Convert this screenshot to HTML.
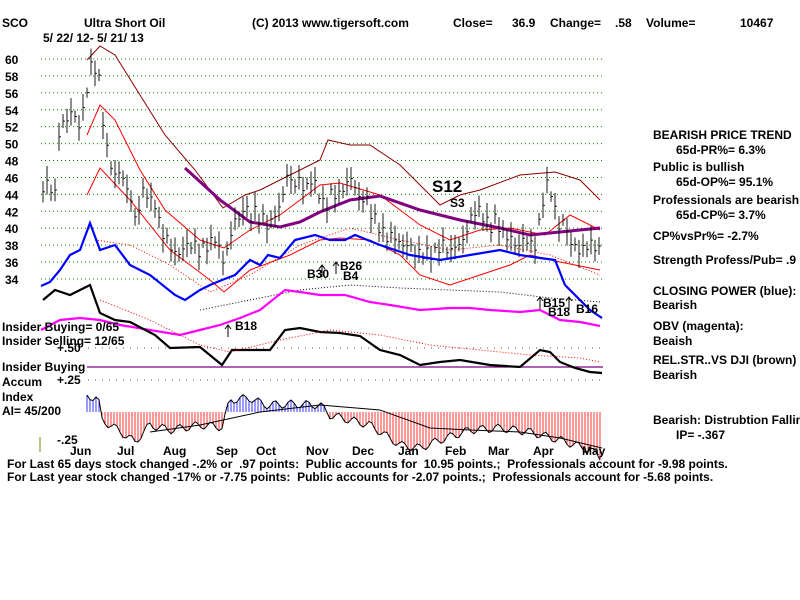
<!DOCTYPE html>
<html><head><meta charset="utf-8"><style>
body{margin:0;background:#fff;}
svg{display:block;font-family:"Liberation Sans",sans-serif;font-weight:bold;font-size:12px;}
</style></head><body>
<svg id="s" width="800" height="600" xmlns="http://www.w3.org/2000/svg">
<rect width="800" height="600" fill="#fff"/>
<g id="grid"></g>
<g id="plot"></g>
<g fill="#000">
<text x="2" y="27">SCO</text>
<text x="84" y="27">Ultra Short Oil</text>
<text x="252" y="27">(C) 2013 www.tigersoft.com</text>
<text x="453" y="27">Close=</text><text x="512" y="27">36.9</text>
<text x="550" y="27">Change=</text><text x="615" y="27">.58</text>
<text x="646" y="27">Volume=</text><text x="740" y="27">10467</text>
<text x="43" y="42">5/ 22/ 12- 5/ 21/ 13</text>
<text x="653" y="139">BEARISH PRICE TREND</text>
<text x="676" y="154">65d-PR%= 6.3%</text>
<text x="653" y="171">Public is bullish</text>
<text x="676" y="186">65d-OP%= 95.1%</text>
<text x="653" y="204">Professionals are bearish</text>
<text x="676" y="219">65d-CP%= 3.7%</text>
<text x="653" y="240">CP%vsPr%= -2.7%</text>
<text x="653" y="264">Strength Profess/Pub= .9</text>
<text x="653" y="295">CLOSING POWER (blue):</text>
<text x="653" y="309">Bearish</text>
<text x="653" y="330">OBV (magenta):</text>
<text x="653" y="345">Beaish</text>
<text x="653" y="364">REL.STR..VS DJI (brown)</text>
<text x="653" y="379">Bearish</text>
<text x="653" y="424">Bearish: Distrubtion Falling</text>
<text x="676" y="439">IP= -.367</text>
<text x="2" y="331">Insider Buying= 0/65</text>
<text x="2" y="345">Insider Selling= 12/65</text>
<text x="57" y="352">+.50</text>
<text x="2" y="371">Insider Buying</text>
<text x="2" y="386">Accum</text>
<text x="57" y="384">+.25</text>
<text x="2" y="401">Index</text>
<text x="2" y="415">AI= 45/200</text>
<text x="57" y="444">-.25</text>
<text x="70" y="455">Jun</text><text x="117" y="455">Jul</text><text x="163" y="455">Aug</text>
<text x="216" y="455">Sep</text><text x="256" y="455">Oct</text><text x="306" y="455">Nov</text>
<text x="352" y="455">Dec</text><text x="398" y="455">Jan</text><text x="445" y="455">Feb</text>
<text x="488" y="455">Mar</text><text x="533" y="455">Apr</text><text x="582" y="455">May</text>
<text x="7" y="468" xml:space="preserve">For Last 65 days stock changed -.2% or  .97 points:  Public accounts for  10.95 points.;  Professionals account for -9.98 points.</text>
<text x="7" y="481" xml:space="preserve">For Last year stock changed -17% or -7.75 points:  Public accounts for -2.07 points.;  Professionals account for -5.68 points.</text>
<text x="432" y="192" font-size="17">S12</text>
<text x="450" y="207">S3</text>
<text x="307" y="278">B30</text>
<text x="340" y="270">B26</text>
<text x="343" y="280">B4</text>
<text x="235" y="330">B18</text>
<text x="543" y="307">B15</text>
<text x="548" y="316">B18</text>
<text x="576" y="313">B16</text>
</g>
</svg>
<script>
const NS="http://www.w3.org/2000/svg";
const g=document.getElementById('grid'),p=document.getElementById('plot');
function el(t,a,par){const e=document.createElementNS(NS,t);for(const k in a)e.setAttribute(k,a[k]);(par||p).appendChild(e);return e;}
function Y(v){return 59+(60-v)*8.46;}
for(let v=60;v>=34;v-=2){const y=Y(v);el('line',{x1:41,x2:603,y1:y,y2:y,stroke:'#008000','stroke-dasharray':'1 3'},g);
 el('text',{x:5,y:y+5,fill:'#000'},g).textContent=v;}
[348,380].forEach(y=>el('line',{x1:88,x2:603,y1:y,y2:y,stroke:'#555','stroke-dasharray':'1 6'},g));
el('line',{x1:87,x2:603,y1:367,y2:367,stroke:'#800080','stroke-width':1.3},g);
function interp(pts,x){for(let i=0;i<pts.length-1;i++){if(x>=pts[i][0]&&x<=pts[i+1][0]){const t=(x-pts[i][0])/(pts[i+1][0]-pts[i][0]);return pts[i][1]+t*(pts[i+1][1]-pts[i][1]);}}return pts[pts.length-1][1];}
function line(pts,c,w,d){el('polyline',{points:pts.map(q=>q.join(',')).join(' '),fill:'none',stroke:c,'stroke-width':w,'stroke-dasharray':d||'none'});}
const H=[[87,396],[98,398],[102,420],[115,428],[135,442],[150,425],[170,430],[200,425],[222,427],[230,400],[250,398],[265,405],[290,404],[320,405],[330,415],[350,420],[370,425],[400,445],[420,448],[440,440],[470,430],[500,428],[530,432],[560,440],[590,450],[602,458]];
const HL=[];
for(let x=87;x<=602;x+=3){let v=interp(H,x)+Math.sin(x*1.7)*4;const base=412;HL.push([x,v]);
 el('line',{x1:x,x2:x,y1:base,y2:v,stroke:v<base?'#0000ff':'#ff0000','stroke-width':0.8});}
line(HL,'#000',1);
line([[150,432],[200,425],[260,412],[320,405],[380,410],[430,428],[470,430],[520,432],[560,438],[602,448]],'#000',1);
el('line',{x1:40,x2:40,y1:437,y2:452,stroke:'#808000'});
line([[87,60],[100,46],[115,55],[140,95],[165,135],[195,170],[223,208],[245,195],[260,190],[290,175],[320,160],[328,140],[350,145],[370,145],[400,165],[420,185],[440,205],[460,195],[480,190],[520,175],[555,172],[580,180],[600,200]],'#8b0000',1);
line([[87,135],[100,105],[115,120],[140,170],[165,210],[200,240],[224,248],[250,230],[280,215],[320,185],[340,183],[380,195],[420,225],[450,240],[480,230],[510,228],[545,235],[570,215],[600,230]],'#ff0000',1);
line([[87,195],[100,168],[130,200],[170,250],[210,280],[224,292],[250,270],[290,255],[320,240],[340,238],[370,240],[400,255],[420,275],[450,285],[480,275],[510,265],[530,255],[560,262],[600,270]],'#ff0000',1);
line([[95,240],[130,245],[170,265],[210,292],[250,275],[300,245],[350,228],[400,240],[450,250],[500,245],[550,255],[600,275]],'#ff0000',1,'1 2');
line([[185,168],[220,200],[250,222],[280,227],[300,222],[320,212],[350,200],[380,196],[420,210],[460,220],[500,228],[530,235],[560,232],[600,228]],'#800080',3);
const P=[[43,45],[50,45],[55,44],[60,53],[65,52],[70,54],[75,53],[80,52],[85,55],[90,59],[95,59],[100,57],[105,50],[110,48],[115,46],[120,47],[125,45],[130,44],[135,41],[140,43],[145,45],[150,43],[155,43],[160,40],[165,39],[170,38],[175,37],[180,37],[185,38],[190,38],[195,38],[200,37],[205,38],[210,38],[215,39],[220,37],[225,36],[230,39],[235,41],[240,41],[245,43],[250,41],[255,42],[260,41],[265,41],[270,40],[275,42],[280,42],[285,46],[290,46],[295,45],[300,46],[305,44],[310,46],[315,45],[320,44],[325,42],[330,44],[335,44],[340,44],[345,45],[350,46],[355,45],[360,43],[365,44],[370,42],[375,41],[380,40],[385,39],[390,39],[395,39],[400,38],[405,38],[410,38],[415,37],[420,37],[425,37],[430,37],[435,37],[440,38],[445,38],[450,37],[455,38],[460,38],[465,39],[470,41],[475,42],[480,42],[485,41],[490,40],[495,41],[500,40],[505,39],[510,39],[515,38],[520,38],[525,39],[530,38],[535,38],[540,41],[545,45],[550,45],[555,42],[560,40],[565,41],[570,38],[575,38],[580,37],[585,38],[590,38],[595,38],[600,37]];
for(let x=43;x<=600;x+=4){const v=interp(P,x)+Math.sin(x*2.3)*0.7;const r=0.6+Math.abs(Math.sin(x*1.3))*1.1;
 el('line',{x1:x,x2:x,y1:Y(v+r),y2:Y(v-r),stroke:'#000','stroke-width':0.9});el('line',{x1:x,x2:x+2,y1:Y(v),y2:Y(v),stroke:'#000','stroke-width':0.9});}
line([[41,286],[50,282],[60,270],[70,255],[80,250],[90,223],[100,250],[115,245],[130,265],[150,275],[175,295],[185,300],[200,290],[210,285],[222,280],[235,275],[250,260],[260,265],[268,255],[280,258],[295,240],[315,235],[330,240],[345,240],[355,235],[380,245],[410,255],[440,260],[470,255],[500,250],[520,255],[540,258],[555,260],[565,285],[575,295],[590,310],[602,318]],'#0000ff',2.2);
line([[200,310],[250,300],[300,290],[350,285],[400,288],[450,290],[500,292],[550,298],[600,302]],'#000',1,'1 2');
line([[41,330],[60,320],[80,318],[100,320],[120,325],[150,330],[180,335],[200,330],[220,325],[240,318],[260,310],[285,290],[300,292],[320,295],[345,295],[370,302],[390,305],[420,310],[450,308],[470,308],[490,310],[520,312],[540,310],[560,320],[580,322],[600,326]],'#ff00ff',2.2);
line([[43,300],[55,290],[70,295],[90,285],[100,313],[115,320],[130,322],[155,335],[170,348],[200,347],[222,365],[232,350],[250,350],[270,350],[285,330],[300,328],[320,332],[340,333],[360,336],[380,350],[400,355],[420,365],[440,362],[460,360],[490,365],[520,367],[540,350],[550,352],[560,362],[575,368],[590,372],[602,373]],'#000',2.2);
line([[100,300],[150,320],[200,345],[230,352],[280,340],[330,330],[380,335],[430,345],[480,350],[530,355],[580,358],[600,362]],'#ff0000',1,'1 2');
[[322,265],[336,262],[540,297],[569,297],[228,325]].forEach(a=>{line([[a[0],a[1]+12],[a[0],a[1]]],'#000',1);line([[a[0]-3,a[1]+4],[a[0],a[1]],[a[0]+3,a[1]+4]],'#000',1);});
</script>
</body></html>
